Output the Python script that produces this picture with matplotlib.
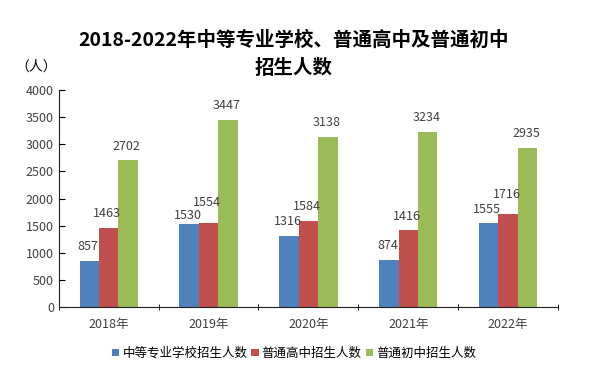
import numpy as np
import matplotlib
matplotlib.use('Agg')
import matplotlib.pyplot as plt

plt.rcParams['font.family'] = ['Noto Sans CJK SC', 'DejaVu Sans']

years = ['2018年', '2019年', '2020年', '2021年', '2022年']
zhongzhuan = [857, 1530, 1316, 874, 1555]
gaozhong = [1463, 1554, 1584, 1416, 1716]
chuzhong = [2702, 3447, 3138, 3234, 2935]
names = ['中等专业学校招生人数', '普通高中招生人数', '普通初中招生人数']
colors = ['#4F81BD', '#C0504D', '#9BBB59']

# label offsets (points) for crowded labels: (series, year index) -> offset
nudge = {(0, 1): 1.5, (1, 1): 10, (0, 4): 4.5, (1, 4): 9}

fig = plt.figure(figsize=(6, 3.8), dpi=100)
ax = fig.add_axes([0.098, 0.192, 0.832, 0.571])

x = np.arange(len(years))
w = 0.195
for k, vals in enumerate([zhongzhuan, gaozhong, chuzhong]):
    pos = x + (k - 1) * w
    ax.bar(pos, vals, w, color=colors[k], label=names[k])
    for i, (p, v) in enumerate(zip(pos, vals)):
        off = nudge.get((k, i), 5.5)
        ax.annotate(str(v), (p, v), xytext=(-1, off), textcoords='offset points',
                    ha='center', va='bottom', fontsize=9, color='#404040')

ax.set_xlim(-0.5, 4.5)
ax.set_ylim(0, 4000)
ax.set_yticks(range(0, 4001, 500))
ax.set_xticks(x)
ax.set_xticklabels(years)
ax.set_xticks(np.arange(-0.5, 5, 1), minor=True)
ax.tick_params(axis='x', which='major', length=0, pad=8, labelsize=9, labelcolor='#404040')
ax.tick_params(axis='x', which='minor', length=4, direction='inout')
ax.tick_params(axis='y', direction='in', length=4, labelsize=9, labelcolor='#404040')
for s in ['top', 'right']:
    ax.spines[s].set_visible(False)
for s in ['left', 'bottom']:
    ax.spines[s].set_color('#202020')

fig.text(0.49, 0.895, '2018-2022年中等专业学校、普通高中及普通初中', ha='center', va='center',
         fontsize=14, fontweight='bold')
fig.text(0.49, 0.82, '招生人数', ha='center', va='center', fontsize=14, fontweight='bold')
fig.text(0.06, 0.825, '（人）', ha='center', va='center', fontsize=10)

fig.legend(loc='center', bbox_to_anchor=(0.49, 0.07), ncol=3, frameon=False,
           fontsize=9, handlelength=0.6, handleheight=0.6, handletextpad=0.25,
           columnspacing=0.3)

fig.savefig('out.png', dpi=100)
